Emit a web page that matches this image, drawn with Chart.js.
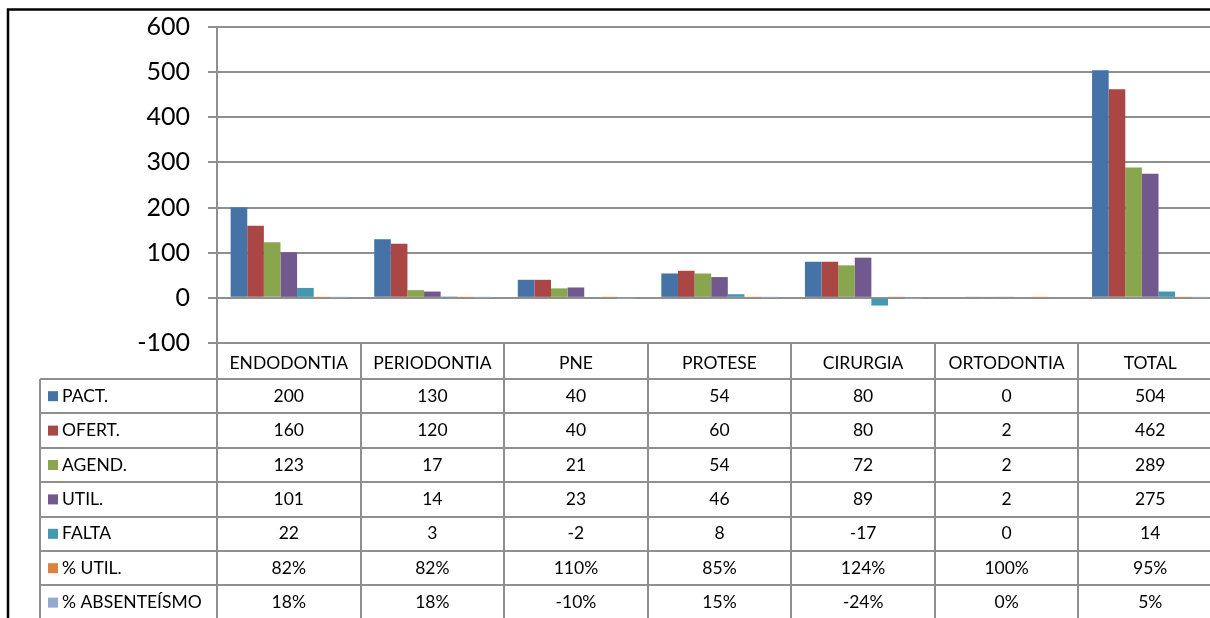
<!DOCTYPE html>
<html>
<head>
<meta charset="utf-8">
<script src="https://cdn.jsdelivr.net/npm/chart.js@4"></script>
<style>
  html, body { margin: 0; padding: 0; overflow: hidden; background: #fff; }
  #wrap { width: 1240px; height: 618px; }
</style>
</head>
<body>
<div id="wrap"><canvas id="c" width="1240" height="618"></canvas></div>
<script>
// data
const categories = ['ENDODONTIA', 'PERIODONTIA', 'PNE', 'PROTESE', 'CIRURGIA', 'ORTODONTIA', 'TOTAL'];
const pact    = [200, 130, 40, 54, 80, 0, 504];
const ofert   = [160, 120, 40, 60, 80, 2, 462];
const agend   = [123, 17, 21, 54, 72, 2, 289];
const util    = [101, 14, 23, 46, 89, 2, 275];
const falta   = [22, 3, -2, 8, -17, 0, 14];
const pctUtil = [0.82, 0.82, 1.10, 0.85, 1.24, 1.00, 0.95];
const pctAbs  = [0.18, 0.18, -0.10, 0.15, -0.24, 0, 0.05];
const yTicks  = [-100, 0, 100, 200, 300, 400, 500, 600];

const seriesNames = ['PACT.', 'OFERT.', 'AGEND.', 'UTIL.', 'FALTA', '% UTIL.', '% ABSENTEÍSMO'];
const seriesData = [pact, ofert, agend, util, falta, pctUtil, pctAbs];
const isPct = [false, false, false, false, false, true, true];
const colors = ['#4572A7', '#AA4643', '#89A54E', '#71588F', '#4198AF', '#DB843D', '#93A9CF'];

const FONT = 'Lato, "Open Sans", sans-serif';
const gridColor = '#8f8f8f';

const tablePlugin = {
  id: 'dataTable',
  afterDraw(chart) {
    const { ctx, chartArea, scales: { x } } = chart;
    const colW = (chartArea.right - chartArea.left) / categories.length;
    const top = chartArea.bottom;
    const headBottom = top + 36;
    const rowH = 34.4;
    const bottom = chart.height;
    const tableLeft = 40;

    ctx.save();
    ctx.strokeStyle = gridColor;
    ctx.lineWidth = 2;

    // column separators (first one continues the value axis)
    for (let i = 0; i <= categories.length; i++) {
      const xx = Math.round(x.getPixelForValue(i) - colW / 2);
      ctx.beginPath();
      ctx.moveTo(xx, top);
      ctx.lineTo(xx, bottom);
      ctx.stroke();
    }
    ctx.beginPath();
    ctx.moveTo(tableLeft, headBottom);
    ctx.lineTo(tableLeft, bottom);
    ctx.stroke();

    for (let k = 0; k <= seriesNames.length; k++) {
      const yy = Math.round(headBottom + k * rowH);
      ctx.beginPath();
      ctx.moveTo(tableLeft, yy);
      ctx.lineTo(chartArea.right, yy);
      ctx.stroke();
    }

    ctx.fillStyle = '#000';
    ctx.font = '17.5px ' + FONT;
    ctx.textBaseline = 'middle';
    ctx.textAlign = 'center';
    categories.forEach((c, i) => {
      ctx.fillText(c, x.getPixelForValue(i), (top + headBottom) / 2 + 2);
    });

    seriesNames.forEach((name, r) => {
      const cy = headBottom + r * rowH + rowH / 2;
      ctx.fillStyle = colors[r];
      ctx.fillRect(48, cy - 5, 10, 10);
      ctx.fillStyle = '#000';
      ctx.textAlign = 'left';
      ctx.fillText(name, 62, cy);
      ctx.textAlign = 'center';
      seriesData[r].forEach((v, i) => {
        const txt = isPct[r] ? Math.round(v * 100) + '%' : String(v);
        ctx.fillText(txt, x.getPixelForValue(i), cy);
      });
    });

    // outer frame
    ctx.strokeStyle = '#000';
    ctx.lineWidth = 2.5;
    ctx.beginPath();
    ctx.moveTo(8, bottom + 5);
    ctx.lineTo(8, 9.5);
    ctx.lineTo(chart.width + 5, 9.5);
    ctx.stroke();
    ctx.restore();
  }
};

new Chart(document.getElementById('c'), {
  type: 'bar',
  data: {
    labels: categories,
    datasets: seriesNames.map((name, i) => ({
      label: name,
      data: seriesData[i],
      backgroundColor: colors[i],
      borderWidth: 0,
      categoryPercentage: 0.81,
      barPercentage: 1.0
    }))
  },
  options: {
    responsive: false,
    animation: false,
    devicePixelRatio: 1,
    layout: { padding: { left: 0, top: 27, right: 18, bottom: 275 } },
    plugins: { legend: { display: false }, tooltip: { enabled: false } },
    scales: {
      x: { display: false },
      y: {
        min: -100,
        max: 600,
        afterFit(scale) { scale.width = 217; },
        afterBuildTicks(scale) { scale.ticks = yTicks.map(v => ({ value: v })); },
        ticks: { color: '#000', font: { family: FONT, size: 25, lineHeight: 0.7 }, padding: 18 },
        grid: { color: gridColor, lineWidth: 2, tickLength: 9 },
        border: { color: gridColor, width: 2 }
      }
    }
  },
  plugins: [tablePlugin]
});
</script>
</body>
</html>
